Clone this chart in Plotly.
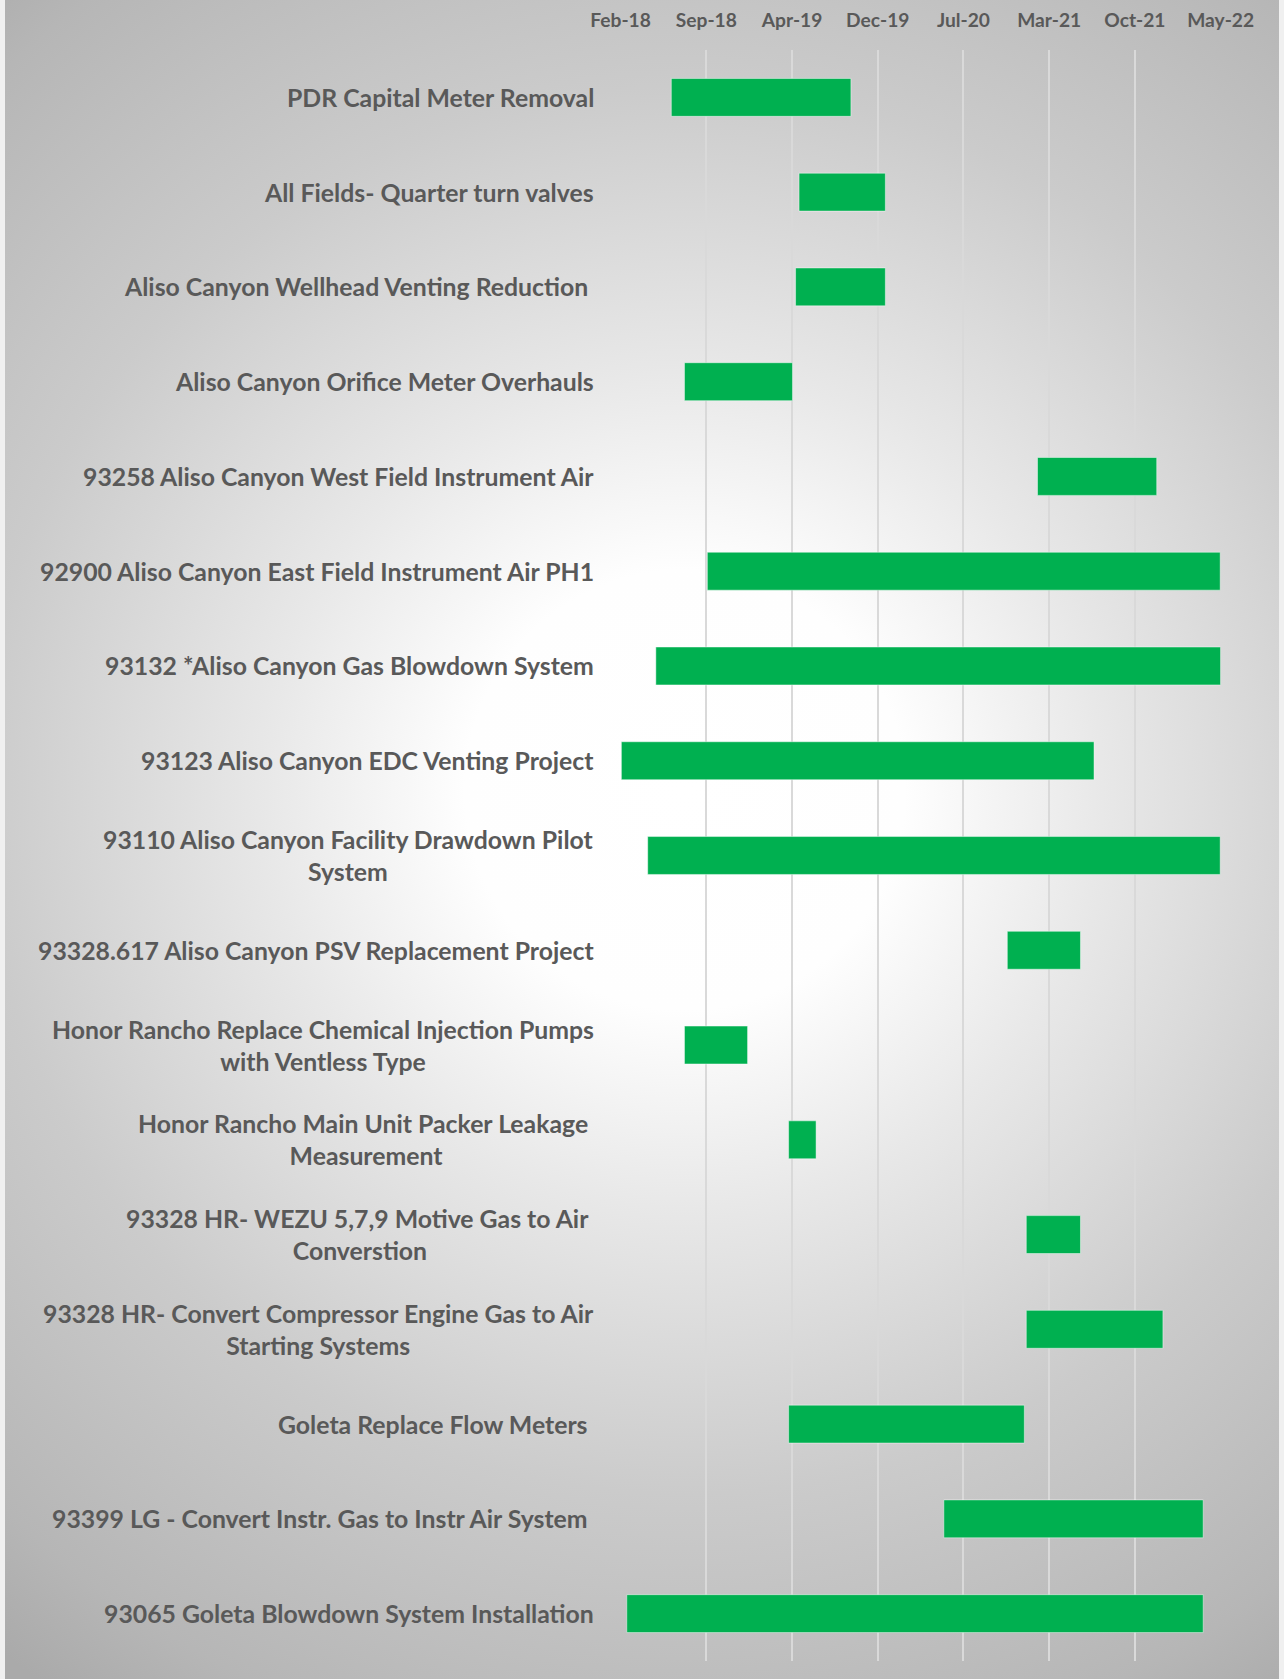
import base64
import pandas as pd
import plotly.graph_objects as go

# ---------------- data ----------------
projects = [
    "PDR Capital Meter Removal",
    "All Fields- Quarter turn valves",
    "Aliso Canyon Wellhead Venting Reduction\u00a0",
    "Aliso Canyon Orifice Meter Overhauls",
    "93258 Aliso Canyon West Field Instrument Air",
    "92900 Aliso Canyon East Field Instrument Air PH1",
    "93132 *Aliso Canyon Gas Blowdown System",
    "93123 Aliso Canyon EDC Venting Project",
    "93110 Aliso Canyon Facility Drawdown Pilot<br>System",
    "93328.617 Aliso Canyon PSV Replacement Project",
    "Honor Rancho Replace Chemical Injection Pumps<br>with Ventless Type",
    "Honor Rancho Main Unit Packer Leakage\u00a0<br>Measurement",
    "93328 HR- WEZU 5,7,9 Motive Gas to Air\u00a0<br>Converstion",
    "93328 HR- Convert Compressor Engine Gas to Air<br>Starting Systems",
    "Goleta Replace Flow Meters\u00a0",
    "93399 LG - Convert Instr. Gas to Instr Air System\u00a0",
    "93065 Goleta Blowdown System Installation",
]

start_dates = [
    "2018-06-21", "2019-05-17", "2019-05-08", "2018-07-25", "2021-01-22",
    "2018-09-22", "2018-05-12", "2018-02-12", "2018-04-21", "2020-11-05",
    "2018-07-25", "2019-04-20", "2020-12-24", "2020-12-24", "2019-04-20",
    "2020-05-25", "2018-02-26",
]

end_dates = [
    "2019-09-28", "2019-12-26", "2019-12-26", "2019-04-30", "2021-11-26",
    "2022-05-09", "2022-05-10", "2021-06-17", "2022-05-09", "2021-05-13",
    "2019-01-04", "2019-06-30", "2021-05-13", "2021-12-12", "2020-12-19",
    "2022-03-26", "2022-03-26",
]

tick_labels = ["Feb-18", "Sep-18", "Apr-19", "Dec-19", "Jul-20", "Mar-21", "Oct-21", "May-22"]
axis_start = "2018-02-10"
axis_end = "2022-05-10"

# ---------------- derived ----------------
starts = pd.to_datetime(pd.Series(start_dates))
ends = pd.to_datetime(pd.Series(end_dates))
durations_ms = ((ends - starts).dt.total_seconds() * 1000).tolist()
tick_vals = pd.date_range(axis_start, axis_end, periods=len(tick_labels))

W, H = 1284, 1679
x0_px, x1_px = 620.6, 1220.6
top_px, bot_px = 50, 1661

TEXT = "#595959"
FONT = "Lato, 'Open Sans', sans-serif"

# radial gradient background (Excel-like)
bg_w = 1274
svg = (
    f'<svg xmlns="http://www.w3.org/2000/svg" width="{bg_w}" height="{H}" '
    f'viewBox="0 0 {bg_w} {H}" preserveAspectRatio="none">'
    '<defs><radialGradient id="g" gradientUnits="userSpaceOnUse" cx="680" cy="790" r="1100">'
    '<stop offset="0" stop-color="#ffffff"/>'
    '<stop offset="0.2" stop-color="#fefefe"/>'
    '<stop offset="0.38" stop-color="#e8e8e8"/>'
    '<stop offset="0.64" stop-color="#cbcbcb"/>'
    '<stop offset="0.9" stop-color="#b6b6b6"/>'
    '<stop offset="1" stop-color="#aaaaaa"/>'
    '</radialGradient></defs>'
    f'<rect width="{bg_w}" height="{H}" fill="url(#g)"/></svg>'
)
bg_uri = "data:image/svg+xml;base64," + base64.b64encode(svg.encode()).decode()

fig = go.Figure()
fig.add_trace(go.Bar(
    y=projects,
    x=durations_ms,
    base=starts.dt.strftime("%Y-%m-%d").tolist(),
    orientation="h",
    marker=dict(color="#00b050", line=dict(color="rgba(255,255,255,0.45)", width=1)),
    showlegend=False,
    hoverinfo="skip",
))

annotations = []
for p in projects:
    annotations.append(dict(
        x=x0_px / W, xref="paper", y=p, yref="y",
        xanchor="right", yanchor="middle", xshift=-25,
        text=p, showarrow=False, align="center",
        font=dict(family=FONT, size=24.8, color=TEXT, weight="bold"),
    ))

fig.update_layout(
    width=W, height=H,
    autosize=False,
    margin=dict(l=0, r=0, t=0, b=0, pad=0, autoexpand=False),
    paper_bgcolor="#f0f0f0",
    plot_bgcolor="rgba(0,0,0,0)",
    bargap=0.6,
    showlegend=False,
    annotations=annotations,
    images=[dict(
        source=bg_uri, xref="paper", yref="paper",
        x=5 / W, y=1, sizex=bg_w / W, sizey=1,
        xanchor="left", yanchor="top", sizing="stretch", layer="below",
    )],
    xaxis=dict(
        type="date",
        domain=[x0_px / W, x1_px / W],
        range=[axis_start, axis_end],
        side="top",
        tickvals=tick_vals,
        ticktext=tick_labels,
        showgrid=True, gridcolor="#d9d9d9", gridwidth=1.5,
        zeroline=False, showline=False, ticks="",
        automargin=False,
        ticklabelstandoff=18,
        tickfont=dict(family=FONT, size=19.2, color=TEXT, weight="bold"),
    ),
    yaxis=dict(
        type="category",
        domain=[1 - bot_px / H, 1 - top_px / H],
        range=[len(projects) - 0.5, -0.5],
        showgrid=False, zeroline=False, showline=False,
        showticklabels=False, ticks="", automargin=False,
    ),
)

fig.write_html(
    "out.html",
    config={"responsive": False, "displayModeBar": False},
    post_script="document.body.style.margin='0';document.body.style.overflow='hidden';",
)
